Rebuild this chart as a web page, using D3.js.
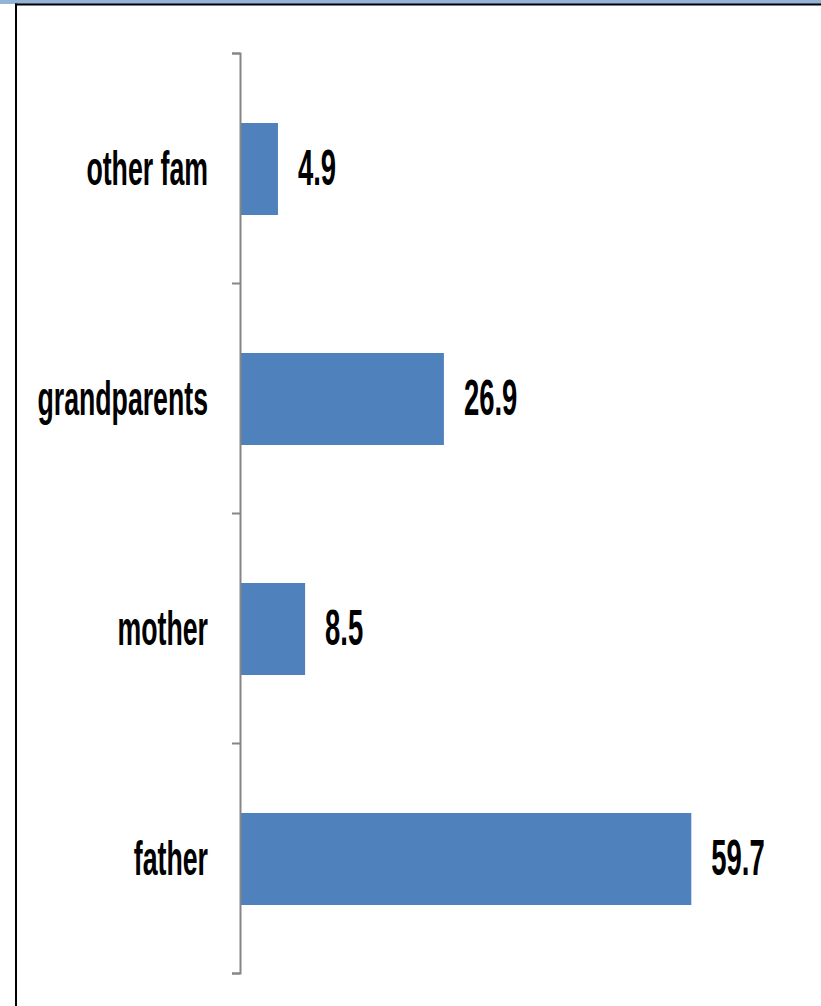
<!DOCTYPE html>
<html>
<head>
<meta charset="utf-8">
<script src="https://cdn.jsdelivr.net/npm/d3@7"></script>
<style>
  body { margin: 0; background: #fff; }
  svg { display: block; }
</style>
</head>
<body>
<div id="chart"></div>
<script>
// Chart data
const categories = ["other fam", "grandparents", "mother", "father"];
const values = [4.9, 26.9, 8.5, 59.7];

const width = 821;
const height = 1006;
const plotTop = 53, plotBottom = 973;
const plotLeft = 241;

const svg = d3.select("#chart")
    .append("svg")
    .attr("width", width)
    .attr("height", height);

// Frame: blue strip on top, black border top and left
svg.append("rect")
    .attr("x", 0).attr("y", 0)
    .attr("width", width).attr("height", 4)
    .style("fill", "#95b3d7");
svg.append("rect")
    .attr("x", 15).attr("y", 3.5)
    .attr("width", width - 15).attr("height", 2)
    .style("fill", "#000");
svg.append("rect")
    .attr("x", 15).attr("y", 3.5)
    .attr("width", 2).attr("height", height)
    .style("fill", "#000");

// Scales
const yScale = d3.scaleBand()
    .domain(categories)
    .range([plotTop, plotBottom])
    .paddingInner(0.6)
    .paddingOuter(0.3);

const xScale = d3.scaleLinear()
    .domain([0, 70])
    .range([plotLeft, 769]);

// Tick marks sit on the band boundaries
const tickScale = d3.scaleLinear()
    .domain([0, categories.length])
    .range([plotTop, plotBottom]);

// Bars
svg.selectAll(".bar")
    .data(values)
    .enter()
    .append("rect")
    .attr("class", "bar")
    .attr("x", xScale(0))
    .attr("y", (d, i) => yScale(categories[i]) + 1)
    .attr("width", d => xScale(d) - xScale(0))
    .attr("height", yScale.bandwidth())
    .style("fill", "#4f81bd");

// Vertical axis
const axis = svg.append("g")
    .attr("transform", `translate(${plotLeft - 1}, 0)`)
    .call(d3.axisLeft(tickScale)
        .ticks(categories.length)
        .tickSize(8)
        .tickSizeOuter(8)
        .tickFormat(""));
axis.select(".domain").style("stroke", "#868686").style("stroke-width", 2);
axis.selectAll(".tick line").style("stroke", "#868686").style("stroke-width", 2);

const fontStyle = sel => sel
    .style("font-family", "'Liberation Sans', Arial, sans-serif")
    .style("font-weight", "bold")
    .style("font-size", "49px")
    .style("fill", "#000");

// Category labels
svg.selectAll(".cat")
    .data(categories)
    .enter()
    .append("g")
    .attr("class", "cat")
    .attr("transform", d => `translate(208, ${yScale(d) + yScale.bandwidth() / 2 + 17})`)
    .append("text")
    .attr("transform", "scale(0.545,1)")
    .attr("text-anchor", "end")
    .call(fontStyle)
    .text(d => d);

// Value labels
svg.selectAll(".val")
    .data(values)
    .enter()
    .append("g")
    .attr("class", "val")
    .attr("transform", (d, i) => `translate(${xScale(d) + 20}, ${yScale(categories[i]) + yScale.bandwidth() / 2 + 17})`)
    .append("text")
    .attr("transform", "scale(0.56,1)")
    .call(fontStyle)
    .text(d => d.toFixed(1));
</script>
</body>
</html>
